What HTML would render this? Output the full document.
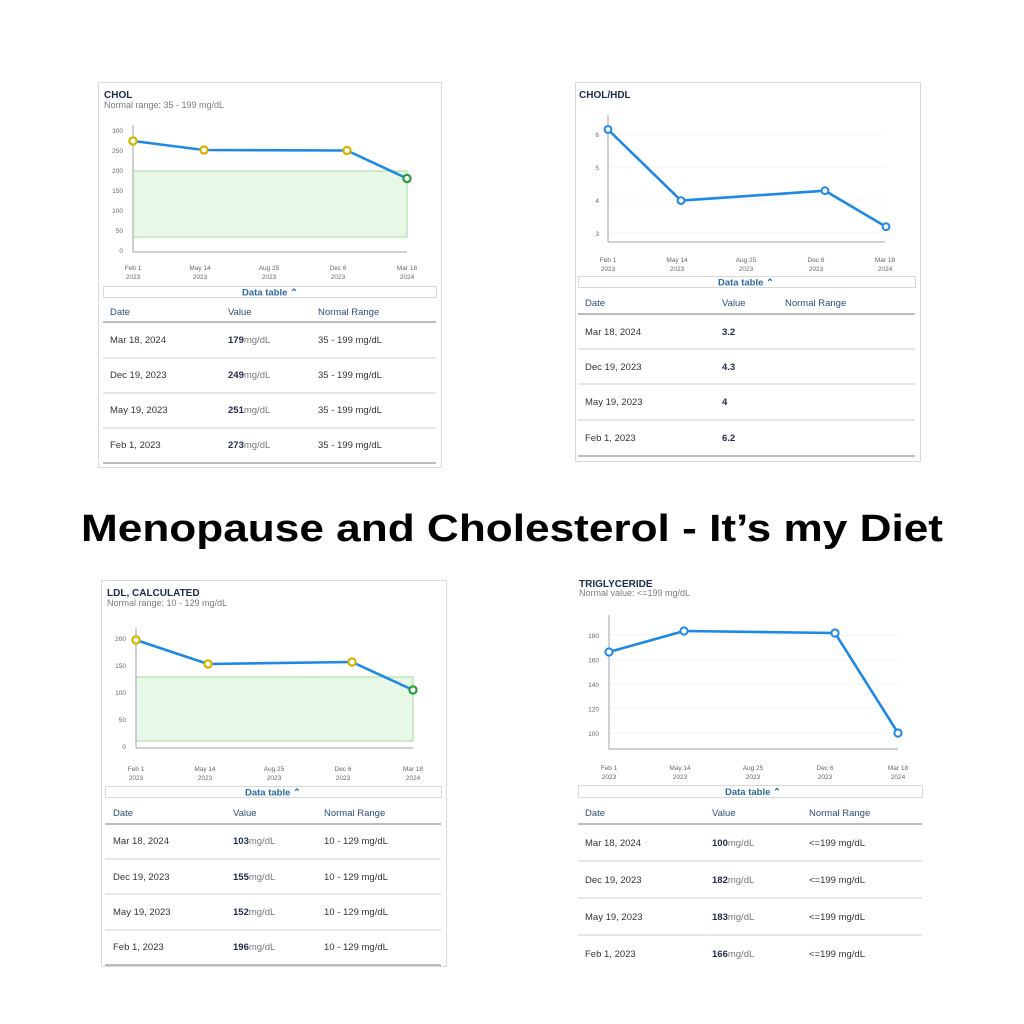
<!DOCTYPE html>
<html><head><meta charset="utf-8"><style>
html,body{margin:0;padding:0;background:#fff}
svg{display:block}
text{font-family:"Liberation Sans",sans-serif}
.t{font-size:10px;font-weight:bold;fill:#1d2b45}
.s{font-size:9px;fill:#7a7a7a}
.yl{font-size:6.5px;fill:#666;text-anchor:end}
.xl{font-size:6.5px;fill:#666;text-anchor:middle}
.dt{font-size:9.5px;fill:#2a6aa0;text-anchor:middle;font-weight:bold}
.h{font-size:9.5px;fill:#2c4f78}
.c{font-size:9.5px;fill:#333}
.b{font-weight:bold;fill:#1d2b45}
.g{fill:#777}
.ln{fill:none;stroke:#1e88e5;stroke-width:2.6;stroke-linejoin:round}
.pt{fill:#fff;stroke:#1e88e5;stroke-width:2}
.py{fill:#fff;stroke:#d4b400;stroke-width:2.2}
.pg{fill:#fff;stroke:#2a9a3a;stroke-width:2.2}
.ax{stroke:#9aa3ad;stroke-width:1}
.gr{stroke:#eef0f2;stroke-width:0.8}
.rl{stroke:#c9ccd0;stroke-width:1}
.hl{stroke:#8f959c;stroke-width:1.2}
.box{fill:none;stroke:#d6d8da;stroke-width:1}
</style></head><body>
<svg width="1024" height="1024" viewBox="0 0 1024 1024">
<!-- Panel 1 CHOL -->
<rect class="box" x="98.5" y="82.5" width="343" height="385"/>
<text class="t" x="104" y="98">CHOL</text>
<text class="s" x="104" y="108">Normal range: 35 - 199 mg/dL</text>
<g class="yl"><text x="123" y="133">300</text><text x="123" y="153">250</text><text x="123" y="173">200</text><text x="123" y="193">150</text><text x="123" y="213">100</text><text x="123" y="233">50</text><text x="123" y="253">0</text></g>
<rect x="133" y="171" width="274" height="66" fill="#e8f8e6" stroke="#8fcf8a" stroke-width="0.8"/>
<line class="ax" x1="133" y1="125" x2="133" y2="252"/><line class="ax" x1="133" y1="252" x2="407" y2="252"/>
<g class="xl"><text x="133" y="270">Feb 1</text><text x="133" y="279">2023</text><text x="200" y="270">May 14</text><text x="200" y="279">2023</text><text x="269" y="270">Aug 25</text><text x="269" y="279">2023</text><text x="338" y="270">Dec 6</text><text x="338" y="279">2023</text><text x="407" y="270">Mar 18</text><text x="407" y="279">2024</text></g>
<polyline class="ln" points="133,141 204,150 347,150.5 407,178.5"/>
<circle class="py" cx="133" cy="141" r="3.6"/><circle class="py" cx="204" cy="150" r="3.6"/><circle class="py" cx="347" cy="150.5" r="3.6"/><circle class="pg" cx="407" cy="178.5" r="3.6"/>
<rect class="box" x="103.5" y="286.5" width="333" height="11"/>
<text class="dt" x="270" y="295.5">Data table ⌃</text>
<text class="h" x="110" y="315">Date</text><text class="h" x="228" y="315">Value</text><text class="h" x="318" y="315">Normal Range</text>
<line class="hl" x1="103" y1="322" x2="436" y2="322"/>
<g class="c"><text x="110" y="343">Mar 18, 2024</text><text x="228" y="343"><tspan class="b">179</tspan><tspan class="g">mg/dL</tspan></text><text x="318" y="343">35 - 199 mg/dL</text>
<text x="110" y="378">Dec 19, 2023</text><text x="228" y="378"><tspan class="b">249</tspan><tspan class="g">mg/dL</tspan></text><text x="318" y="378">35 - 199 mg/dL</text>
<text x="110" y="413">May 19, 2023</text><text x="228" y="413"><tspan class="b">251</tspan><tspan class="g">mg/dL</tspan></text><text x="318" y="413">35 - 199 mg/dL</text>
<text x="110" y="448">Feb 1, 2023</text><text x="228" y="448"><tspan class="b">273</tspan><tspan class="g">mg/dL</tspan></text><text x="318" y="448">35 - 199 mg/dL</text></g>
<line class="rl" x1="103" y1="358" x2="436" y2="358"/><line class="rl" x1="103" y1="393" x2="436" y2="393"/><line class="rl" x1="103" y1="428" x2="436" y2="428"/><line class="hl" x1="103" y1="463" x2="436" y2="463"/>

<!-- Panel 2 CHOL/HDL -->
<rect class="box" x="575.5" y="82.5" width="345" height="379"/>
<text class="t" x="579" y="98">CHOL/HDL</text>
<g class="gr"><line x1="608" y1="134" x2="885" y2="134"/><line x1="608" y1="167" x2="885" y2="167"/><line x1="608" y1="200" x2="885" y2="200"/><line x1="608" y1="233" x2="885" y2="233"/></g>
<g class="yl"><text x="599" y="137">6</text><text x="599" y="170">5</text><text x="599" y="203">4</text><text x="599" y="236">3</text></g>
<line class="ax" x1="608" y1="115" x2="608" y2="242"/><line class="ax" x1="608" y1="242" x2="885" y2="242"/>
<g class="xl"><text x="608" y="262">Feb 1</text><text x="608" y="271">2023</text><text x="677" y="262">May 14</text><text x="677" y="271">2023</text><text x="746" y="262">Aug 25</text><text x="746" y="271">2023</text><text x="816" y="262">Dec 6</text><text x="816" y="271">2023</text><text x="885" y="262">Mar 18</text><text x="885" y="271">2024</text></g>
<polyline class="ln" points="608,129.5 681,200.6 825,190.7 886,226.7"/>
<circle class="pt" cx="608" cy="129.5" r="3.4"/><circle class="pt" cx="681" cy="200.6" r="3.4"/><circle class="pt" cx="825" cy="190.7" r="3.4"/><circle class="pt" cx="886" cy="226.7" r="3.4"/>
<rect class="box" x="578.5" y="276.5" width="337" height="11"/>
<text class="dt" x="746" y="285.5">Data table ⌃</text>
<text class="h" x="585" y="306">Date</text><text class="h" x="722" y="306">Value</text><text class="h" x="785" y="306">Normal Range</text>
<line class="hl" x1="578" y1="314" x2="915" y2="314"/>
<g class="c"><text x="585" y="335">Mar 18, 2024</text><text class="b" x="722" y="335">3.2</text>
<text x="585" y="370">Dec 19, 2023</text><text class="b" x="722" y="370">4.3</text>
<text x="585" y="405">May 19, 2023</text><text class="b" x="722" y="405">4</text>
<text x="585" y="441">Feb 1, 2023</text><text class="b" x="722" y="441">6.2</text></g>
<line class="rl" x1="578" y1="349" x2="915" y2="349"/><line class="rl" x1="578" y1="384" x2="915" y2="384"/><line class="rl" x1="578" y1="420" x2="915" y2="420"/><line class="hl" x1="578" y1="456" x2="915" y2="456"/>

<!-- Title -->
<text x="512" y="541" text-anchor="middle" font-size="38" font-weight="bold" fill="#000" textLength="862" lengthAdjust="spacingAndGlyphs">Menopause and Cholesterol - It’s my Diet</text>

<!-- Panel 3 LDL -->
<rect class="box" x="101.5" y="580.5" width="345" height="386"/>
<text class="t" x="107" y="596">LDL, CALCULATED</text>
<text class="s" x="107" y="606">Normal range: 10 - 129 mg/dL</text>
<g class="yl"><text x="126" y="641">200</text><text x="126" y="668">150</text><text x="126" y="695">100</text><text x="126" y="722">50</text><text x="126" y="749">0</text></g>
<rect x="136" y="677" width="277" height="64" fill="#e8f8e6" stroke="#8fcf8a" stroke-width="0.8"/>
<line class="ax" x1="136" y1="628" x2="136" y2="748"/><line class="ax" x1="136" y1="748" x2="413" y2="748"/>
<g class="xl"><text x="136" y="771">Feb 1</text><text x="136" y="780">2023</text><text x="205" y="771">May 14</text><text x="205" y="780">2023</text><text x="274" y="771">Aug 25</text><text x="274" y="780">2023</text><text x="343" y="771">Dec 6</text><text x="343" y="780">2023</text><text x="413" y="771">Mar 18</text><text x="413" y="780">2024</text></g>
<polyline class="ln" points="136,640 208,664 352,662 413,690"/>
<circle class="py" cx="136" cy="640" r="3.6"/><circle class="py" cx="208" cy="664" r="3.6"/><circle class="py" cx="352" cy="662" r="3.6"/><circle class="pg" cx="413" cy="690" r="3.6"/>
<rect class="box" x="105.5" y="786.5" width="336" height="11"/>
<text class="dt" x="273" y="795.5">Data table ⌃</text>
<text class="h" x="113" y="816">Date</text><text class="h" x="233" y="816">Value</text><text class="h" x="324" y="816">Normal Range</text>
<line class="hl" x1="105" y1="824" x2="441" y2="824"/>
<g class="c"><text x="113" y="844">Mar 18, 2024</text><text x="233" y="844"><tspan class="b">103</tspan><tspan class="g">mg/dL</tspan></text><text x="324" y="844">10 - 129 mg/dL</text>
<text x="113" y="880">Dec 19, 2023</text><text x="233" y="880"><tspan class="b">155</tspan><tspan class="g">mg/dL</tspan></text><text x="324" y="880">10 - 129 mg/dL</text>
<text x="113" y="915">May 19, 2023</text><text x="233" y="915"><tspan class="b">152</tspan><tspan class="g">mg/dL</tspan></text><text x="324" y="915">10 - 129 mg/dL</text>
<text x="113" y="950">Feb 1, 2023</text><text x="233" y="950"><tspan class="b">196</tspan><tspan class="g">mg/dL</tspan></text><text x="324" y="950">10 - 129 mg/dL</text></g>
<line class="rl" x1="105" y1="859" x2="441" y2="859"/><line class="rl" x1="105" y1="894" x2="441" y2="894"/><line class="rl" x1="105" y1="930" x2="441" y2="930"/><line class="hl" x1="105" y1="965" x2="441" y2="965"/>

<!-- Panel 4 TRIGLYCERIDE -->
<svg x="575" y="580" width="360" height="400" overflow="hidden"><text class="t" x="4" y="7">TRIGLYCERIDE</text></svg>
<text class="s" x="579" y="596">Normal value: &lt;=199 mg/dL</text>
<g class="gr"><line x1="609" y1="635" x2="898" y2="635"/><line x1="609" y1="659.5" x2="898" y2="659.5"/><line x1="609" y1="684" x2="898" y2="684"/><line x1="609" y1="708.5" x2="898" y2="708.5"/><line x1="609" y1="733" x2="898" y2="733"/></g>
<g class="yl"><text x="599" y="638">180</text><text x="599" y="662.5">160</text><text x="599" y="687">140</text><text x="599" y="711.5">120</text><text x="599" y="736">100</text></g>
<line class="ax" x1="609" y1="615" x2="609" y2="749"/><line class="ax" x1="609" y1="749" x2="898" y2="749"/>
<g class="xl"><text x="609" y="770">Feb 1</text><text x="609" y="779">2023</text><text x="680" y="770">May 14</text><text x="680" y="779">2023</text><text x="753" y="770">Aug 25</text><text x="753" y="779">2023</text><text x="825" y="770">Dec 6</text><text x="825" y="779">2023</text><text x="898" y="770">Mar 18</text><text x="898" y="779">2024</text></g>
<polyline class="ln" points="609,652 684,631 835,633 898,733"/>
<circle class="pt" cx="609" cy="652" r="3.6"/><circle class="pt" cx="684" cy="631" r="3.6"/><circle class="pt" cx="835" cy="633" r="3.6"/><circle class="pt" cx="898" cy="733" r="3.6"/>
<rect class="box" x="578.5" y="785.5" width="344" height="12"/>
<text class="dt" x="753" y="795">Data table ⌃</text>
<text class="h" x="585" y="816">Date</text><text class="h" x="712" y="816">Value</text><text class="h" x="809" y="816">Normal Range</text>
<line class="hl" x1="578" y1="824" x2="922" y2="824"/>
<g class="c"><text x="585" y="846">Mar 18, 2024</text><text x="712" y="846"><tspan class="b">100</tspan><tspan class="g">mg/dL</tspan></text><text x="809" y="846">&lt;=199 mg/dL</text>
<text x="585" y="883">Dec 19, 2023</text><text x="712" y="883"><tspan class="b">182</tspan><tspan class="g">mg/dL</tspan></text><text x="809" y="883">&lt;=199 mg/dL</text>
<text x="585" y="920">May 19, 2023</text><text x="712" y="920"><tspan class="b">183</tspan><tspan class="g">mg/dL</tspan></text><text x="809" y="920">&lt;=199 mg/dL</text>
<text x="585" y="957">Feb 1, 2023</text><text x="712" y="957"><tspan class="b">166</tspan><tspan class="g">mg/dL</tspan></text><text x="809" y="957">&lt;=199 mg/dL</text></g>
<line class="rl" x1="578" y1="861" x2="922" y2="861"/><line class="rl" x1="578" y1="898" x2="922" y2="898"/><line class="rl" x1="578" y1="935" x2="922" y2="935"/>
</svg>
</body></html>
